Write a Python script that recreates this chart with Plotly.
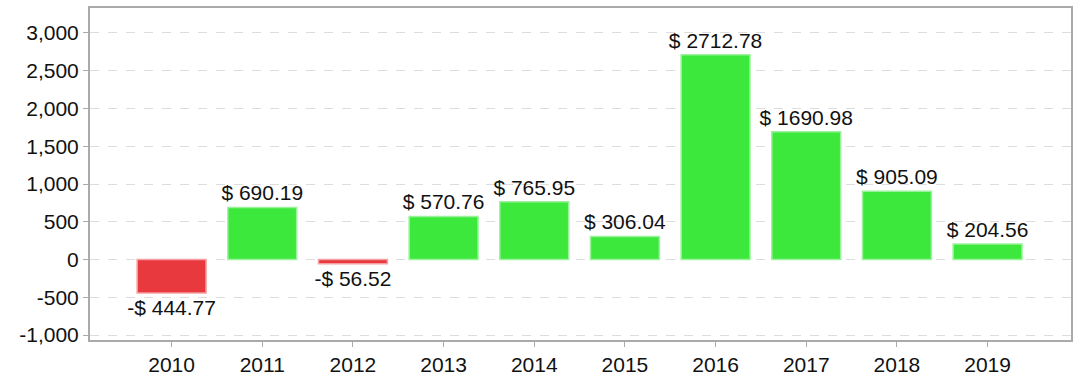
import plotly.graph_objects as go

years = ["2010", "2011", "2012", "2013", "2014", "2015", "2016", "2017", "2018", "2019"]
values = [-444.77, 690.19, -56.52, 570.76, 765.95, 306.04, 2712.78, 1690.98, 905.09, 204.56]
ytick_vals = [-1000, -500, 0, 500, 1000, 1500, 2000, 2500, 3000]
ytick_text = ["-1,000", "-500", "0", "500", "1,000", "1,500", "2,000", "2,500", "3,000"]

def fmt(v):
    return ("-$ %.2f" % abs(v)) if v < 0 else ("$ %.2f" % v)

labels = [fmt(v) for v in values]
fill = ["#e8393f" if v < 0 else "#3de83d" for v in values]
edge = ["#f4a0a3" if v < 0 else "#9cf29c" for v in values]

font = "Liberation Sans, Arial, sans-serif"

fig = go.Figure(go.Bar(
    x=years, y=values, text=labels, textposition="outside",
    constraintext="none",
    textfont=dict(family=font, size=21, color="#111111"),
    cliponaxis=False,
    marker=dict(color=fill, line=dict(color=edge, width=1.5)),
    width=0.76,
))

fig.update_layout(
    width=1079, height=387,
    margin=dict(l=90, r=8, t=8, b=47),
    paper_bgcolor="white", plot_bgcolor="white",
    showlegend=False,
    font=dict(family=font, size=21, color="#111111"),
)
fig.update_xaxes(
    type="category", range=[-0.9, 9.92], automargin=False,
    showline=True, mirror=True, linecolor="#aaaaaa", linewidth=2,
    ticks="outside", ticklen=5, tickcolor="#aaaaaa", tickwidth=1,
    showgrid=False, tickfont=dict(size=21),
)
fig.update_yaxes(
    range=[-1066, 3331], automargin=False,
    tickvals=ytick_vals, ticktext=ytick_text,
    showline=True, mirror=True, linecolor="#aaaaaa", linewidth=2,
    ticks="outside", ticklen=5, tickcolor="#aaaaaa", tickwidth=1,
    showgrid=True, gridcolor="#dddddd", griddash="dash", gridwidth=1,
    zeroline=False, tickfont=dict(size=21),
)

fig.write_html(
    "out.html",
    config={"displayModeBar": False},
    post_script="document.body.style.margin='0';document.body.style.overflow='hidden';",
)
